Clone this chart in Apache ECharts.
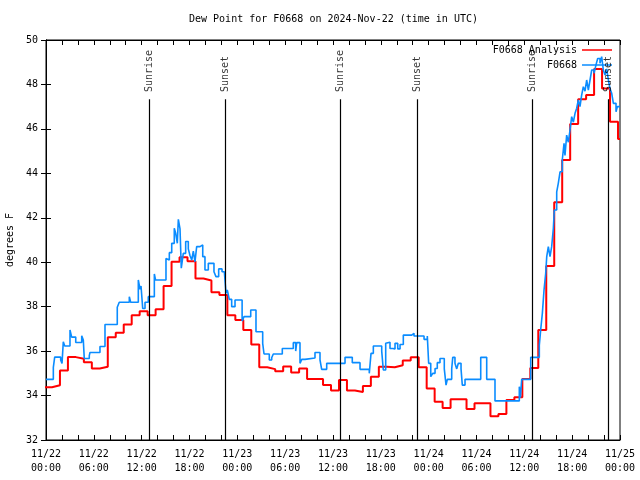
<!DOCTYPE html>
<html>
<head>
<meta charset="utf-8">
<script src="https://cdn.jsdelivr.net/npm/echarts@6/dist/echarts.min.js"></script>
<style>html,body{margin:0;padding:0;background:#fff}#c{width:640px;height:480px}</style>
</head>
<body>
<div id="c"></div>
<script>
// ---- data ----
const titleText = 'Dew Point for F0668 on 2024-Nov-22 (time in UTC)';
const xTickLabels = ['11/22\n00:00','11/22\n06:00','11/22\n12:00','11/22\n18:00','11/23\n00:00','11/23\n06:00','11/23\n12:00','11/23\n18:00','11/24\n00:00','11/24\n06:00','11/24\n12:00','11/24\n18:00','11/25\n00:00'];
// Analysis (hourly), hour k valid from k-0.25 to k+0.75
const analysisValues = [34.37,34.46,35.13,35.73,35.66,35.5,35.22,35.3,36.62,36.83,
  37.2,37.61,37.79,37.61,37.88,38.93,40.02,40.22,40.04,39.27,
  39.18,38.65,38.52,37.61,37.4,36.95,36.3,35.27,35.19,35.09,
  35.31,35.04,35.22,34.74,34.74,34.47,34.23,34.7,34.23,34.16,
  34.43,34.85,35.3,35.27,35.36,35.58,35.72,35.27,34.32,33.72,
  33.44,33.83,33.83,33.39,33.65,33.65,33.07,33.17,33.8,33.92,
  34.74,35.24,36.95,39.83,42.7,44.6,46.22,47.33,47.52,48.69,
  47.82,46.32,45.54];
// Observations: hours since 11/22 00:00 and values
const obsHours = [0,0.92,1.09,1.84,2.01,2.17,2.35,3.01,3.22,3.73,
  4.48,4.68,4.80,5.43,5.52,6.77,7.40,8.94,9.19,10.45,
  10.62,11.58,11.79,11.92,12.13,12.42,12.83,13.59,13.74,15.05,
  15.22,15.47,15.77,16.09,16.27,16.47,16.6,16.81,16.97,17.22,
  17.52,17.85,18.06,18.28,18.48,18.69,18.9,19.32,19.66,19.94,
  20.36,21.07,21.32,21.66,22.08,22.37,22.58,22.74,22.99,23.29,
  23.71,24.6,24.84,25.68,26.34,27.18,27.35,28.01,28.31,28.51,
  29.64,31.02,31.32,31.45,31.86,32.08,32.49,33.74,34.37,34.58,
  35.21,37.51,38.42,39.39,40.55,40.77,41.06,42.11,42.31,42.61,
  42.81,43.15,43.49,43.78,44.12,44.41,44.82,45.87,46.16,47.42,
  47.83,48.0,48.26,48.51,48.8,49.08,49.42,49.96,50.18,50.34,
  50.89,51.02,51.3,51.52,51.72,52.06,52.22,52.56,54.53,55.28,
  56.32,59.37,59.5,59.67,60.8,61.88,62.05,62.26,62.47,62.68,
  62.81,63.01,63.22,63.43,63.64,63.76,64.06,64.26,64.48,64.76,
  64.98,65.1,65.31,65.52,65.73,65.94,66.15,66.36,66.57,66.77,
  66.98,67.19,67.4,67.61,67.82,68.03,68.24,68.45,68.74,68.99,
  69.2,69.49,69.7,69.91,70.12,70.33,70.54,70.75,70.96,71.17,
  71.5,71.67];
const obsValues = [34.73,35.27,35.73,35.6,35.45,36.42,36.23,36.95,36.63,36.39,
  36.69,36.5,35.67,35.8,35.94,36.21,37.2,37.97,38.2,38.45,
  38.2,39.2,38.78,38.93,37.92,38.2,38.45,39.47,39.2,40.17,
  40.1,40.43,40.85,41.53,41.3,40.85,41.93,41.5,39.73,40.4,
  40.93,40.6,40.3,40.1,40.5,40.02,40.7,40.78,40.25,39.65,
  39.95,39.57,39.35,39.7,39.57,39.5,38.6,38.75,38.33,38.0,
  38.3,37.35,37.55,37.85,36.87,36.35,35.87,35.6,35.7,35.87,
  36.12,36.38,36.0,36.38,35.45,35.63,35.69,35.94,35.6,35.18,
  35.45,35.72,35.48,35.18,35.0,35.9,36.23,36.0,35.15,36.35,
  36.4,36.12,36.1,36.35,36.1,36.3,36.72,36.8,36.68,36.53,
  36.68,35.45,34.85,35.0,35.22,35.48,35.67,35.2,34.47,34.73,
  35.2,35.72,35.45,35.2,35.45,35.2,34.47,34.73,35.72,34.73,
  33.76,34.4,33.9,34.73,35.72,36.27,36.95,37.7,38.75,39.5,
  40.25,40.7,40.25,40.7,41.53,42.35,43.17,43.55,44.07,44.6,
  45.35,44.8,45.72,45.4,45.95,46.55,46.3,46.7,46.93,47.3,
  47.0,47.52,47.9,47.7,48.2,47.75,48.2,48.65,48.5,48.88,
  49.17,48.95,49.25,48.65,48.42,48.7,48.2,47.8,47.6,47.15,
  46.77,47.0];
const sunHours = [12.97, 22.5, 36.93, 46.57, 61.0, 70.54];
const sunNames = ['Sunrise','Sunset','Sunrise','Sunset','Sunrise','Sunset'];
const sunLineTop = 47.33;
const sunLabelBase = 47.66;

// ---- build ----
const FONT = 'DejaVu Sans Mono';
const X_MAX = 72;
const analysisData = analysisValues.map((v, k) => [k - 0.25, v]);
analysisData.push([X_MAX, analysisValues[analysisValues.length - 1]]);
const obsData = obsHours.map((h, i) => [h, obsValues[i]]);
obsData.push([X_MAX, obsValues[obsValues.length - 1]]);

const chart = echarts.init(document.getElementById('c'), null, {renderer: 'canvas'});
const axisCommon = {
  min: 0, max: X_MAX, interval: 2,
  axisLine: {show: true, lineStyle: {color: '#000', width: 1}},
  axisTick: {show: true, inside: true, length: 5, lineStyle: {color: '#000', width: 1}},
  splitLine: {show: false}
};
chart.setOption({
  animation: false,
  backgroundColor: '#fff',
  title: {
    text: titleText, left: 189, top: 14, padding: 0,
    textStyle: {fontFamily: FONT, fontSize: 10, fontWeight: 'normal', color: '#000'}
  },
  legend: {
    orient: 'vertical', align: 'right', right: 28, top: 44,
    itemWidth: 30, itemHeight: 1.5, itemGap: 3, padding: 0, icon: 'rect',
    data: ['F0668 Analysis', 'F0668'],
    textStyle: {fontFamily: FONT, fontSize: 10, color: '#000', lineHeight: 12},
    selectedMode: false
  },
  grid: {left: 46, right: 20, top: 40, bottom: 40, containLabel: false, outerBoundsMode: 'none',
    show: true, borderColor: '#000', borderWidth: 1, backgroundColor: 'transparent'},
  xAxis: [
    Object.assign({}, axisCommon, {
      type: 'value', position: 'bottom',
      axisLabel: {
        show: true, margin: 7, lineHeight: 14, color: '#000', fontFamily: FONT, fontSize: 10,
        formatter: function (v) { return (v % 6 === 0) ? xTickLabels[v / 6] : ''; }
      }
    }),
    Object.assign({}, axisCommon, {type: 'value', position: 'top', axisLabel: {show: false}})
  ],
  yAxis: [
    {
      type: 'value', min: 32, max: 50, interval: 2, position: 'left',
      name: 'degrees F', nameLocation: 'middle', nameRotate: 90, nameGap: 31,
      nameTextStyle: {fontFamily: FONT, fontSize: 10, color: '#000'},
      axisLine: {show: true, lineStyle: {color: '#000'}},
      axisTick: {show: true, inside: true, length: 5, lineStyle: {color: '#000'}},
      axisLabel: {margin: 8, color: '#000', fontFamily: FONT, fontSize: 10},
      splitLine: {show: false}
    },
    {
      type: 'value', min: 32, max: 50, interval: 2, position: 'right',
      axisLine: {show: true, lineStyle: {color: '#000'}},
      axisTick: {show: true, inside: true, length: 5, lineStyle: {color: '#000'}},
      axisLabel: {show: false},
      splitLine: {show: false}
    }
  ],
  series: [
    {
      name: 'F0668 Analysis', type: 'line', step: 'end', data: analysisData,
      showSymbol: false, symbol: 'none', clip: true,
      lineStyle: {color: '#ff0000', width: 2}, itemStyle: {color: '#ff0000'},
      markLine: {
        silent: true, symbol: ['none', 'none'], animation: false,
        label: {show: false},
        lineStyle: {color: '#000', width: 1.2, type: 'solid'},
        data: sunHours.map(h => [{coord: [h, 32]}, {coord: [h, sunLineTop]}])
      },
      z: 3
    },
    {
      name: 'F0668', type: 'line', step: 'end', data: obsData,
      showSymbol: false, symbol: 'none', clip: true,
      lineStyle: {color: '#0a8cff', width: 1.6}, itemStyle: {color: '#0a8cff'},
      z: 4
    },
    {
      name: 'sun', type: 'scatter', symbolSize: 0, silent: true, z: 5,
      data: sunHours.map((h, i) => ({value: [h, sunLabelBase], name: sunNames[i]})),
      label: {
        show: true, position: 'inside', rotate: 90, align: 'left', verticalAlign: 'middle',
        formatter: p => p.name, color: '#000', fontFamily: FONT, fontSize: 10
      }
    }
  ]
});
</script>
</body>
</html>
